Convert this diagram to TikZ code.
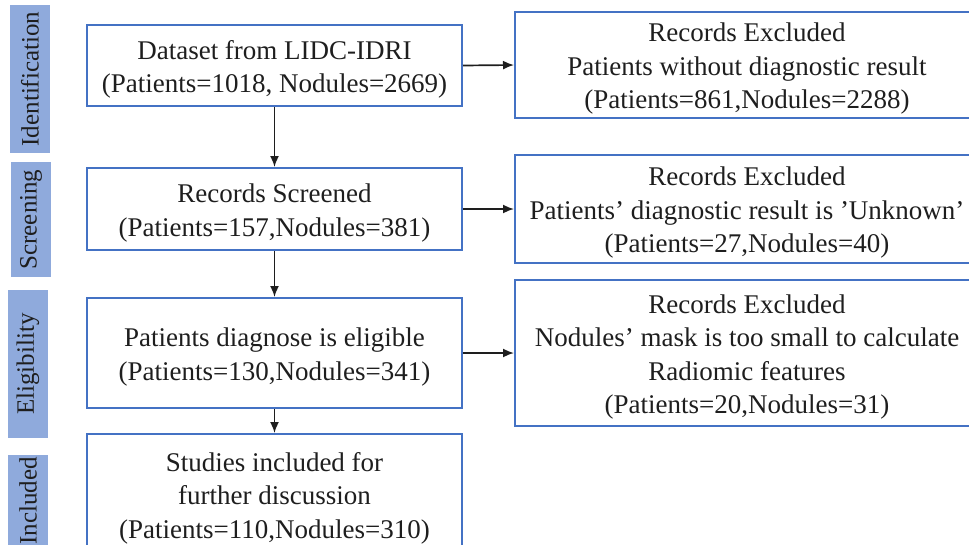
\documentclass[tikz,border=0pt]{standalone}
\usepackage{fontspec}
\setmainfont{Liberation Serif}
\usetikzlibrary{arrows.meta}
\definecolor{boxblue}{HTML}{4472C4}
\definecolor{barblue}{HTML}{8FAADC}
\definecolor{ink}{HTML}{1E1E1E}
\tikzset{
  flowbox/.style={draw=boxblue, line width=2pt, rectangle, inner sep=0pt},
  flowtext/.style={align=center, text=ink, inner sep=0pt,
    font=\fontsize{27}{33.5}\selectfont},
  stagebar/.style={fill=barblue, rectangle, rotate=90, inner sep=0pt,
    minimum height=40pt, text=ink, font=\fontsize{25}{30}\selectfont},
  flowarrow/.style={-{Latex[length=11pt,width=9pt]}, line width=1.7pt, draw=ink}
}
% box outline first, then its text set a little below the centre
\newcommand\flowstep[5]{%
  \node[flowbox, minimum width=#3pt, minimum height=#4pt] (#1) at (#2) {};
  \node[flowtext] (#1-text) at ([yshift=-4pt]#1.center) {#5};}
\begin{document}
\begin{tikzpicture}[x=1pt,y=-1pt]
\useasboundingbox (0,0) rectangle (969,544);

% stage labels on the left
\node[stagebar, minimum width=148pt] (sid)  at (30,79)    {Identification};
\node[stagebar, minimum width=115pt] (sscr) at (31,219.5) {Screening};
\node[stagebar, minimum width=148pt] (seli) at (28,364)   {Eligibility};
\node[stagebar, minimum width=92pt]  (sinc) at (28,501)   {Included};

% main flow
\flowstep{data}{274.5,65.5}{375}{81}
  {Dataset from LIDC-IDRI\\(Patients=1018, Nodules=2669)}
\flowstep{scr}{274.5,209}{375}{82}
  {Records Screened\\(Patients=157,Nodules=381)}
\flowstep{eli}{274.5,353}{375}{110}
  {Patients diagnose is eligible\\(Patients=130,Nodules=341)}
\flowstep{inc}{274.5,494}{375}{120}
  {Studies included for\\further discussion\\(Patients=110,Nodules=310)}

% exclusions
\flowstep{ex1}{747,65}{464}{106}
  {Records Excluded\\Patients without diagnostic result\\(Patients=861,Nodules=2288)}
\flowstep{ex2}{747,209}{464}{108}
  {Records Excluded\\Patients' diagnostic result is 'Unknown'\\(Patients=27,Nodules=40)}
\flowstep{ex3}{747,353}{464}{146}
  {Records Excluded\\Nodules' mask is too small to calculate\\Radiomic features\\(Patients=20,Nodules=31)}

% connectors
\draw[flowarrow] (data.south) -- (scr.north);
\draw[flowarrow] (scr.south) -- (eli.north);
\draw[flowarrow] (eli.south) -- (inc.north);
\draw[flowarrow] (data.east) -- (ex1.west);
\draw[flowarrow] (scr.east) -- (ex2.west);
\draw[flowarrow] (eli.east) -- (ex3.west);
\end{tikzpicture}
\end{document}
